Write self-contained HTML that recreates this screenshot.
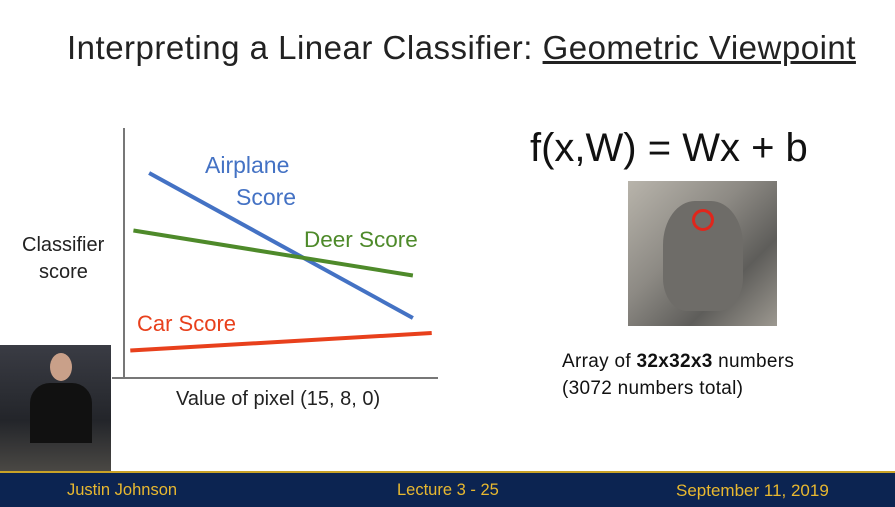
<!DOCTYPE html>
<html><head><meta charset="utf-8"><style>
body{margin:0;width:895px;height:505px;overflow:hidden;background:#fff;font-family:"Liberation Sans",sans-serif;position:relative}
.t{position:absolute;white-space:nowrap}
</style></head><body>
<div class="t" style="left:67px;top:29px;font-size:33px;color:#222;letter-spacing:0.5px">Interpreting a Linear Classifier: <span style="text-decoration:underline">Geometric Viewpoint</span></div>
<svg id="chart" width="895" height="505" style="position:absolute;left:0;top:0">
<line x1="124" y1="128" x2="124" y2="378" stroke="#777" stroke-width="2"/>
<line x1="112" y1="378" x2="438" y2="378" stroke="#777" stroke-width="2"/>
<g id="lines"></g>
<text x="205" y="173" font-size="23" fill="#4472c4">Airplane</text>
<text x="236" y="205" font-size="23" fill="#4472c4">Score</text>
<text x="304" y="247" font-size="22.5" fill="#4e8a2a">Deer Score</text>
<text x="137" y="331" font-size="22" fill="#e8401c">Car Score</text>
<text x="22" y="251" font-size="20" fill="#222">Classifier</text>
<text x="39" y="278" font-size="20" fill="#222">score</text>
<text x="176" y="405" font-size="20" fill="#222">Value of pixel (15, 8, 0)</text>
</svg>
<div class="t" style="left:530px;top:126px;font-size:40px;color:#111">f(x,W) = Wx + b</div>
<div style="position:absolute;left:628px;top:181px;width:149px;height:145px;background:linear-gradient(135deg,#b8b4ab 0%,#8d8a84 40%,#5e5d5a 70%,#9c9890 100%)">
<div style="position:absolute;left:35px;top:20px;width:80px;height:110px;border-radius:40% 40% 30% 30%;background:#6e6c68"></div>
<div style="position:absolute;left:64px;top:28px;width:16px;height:16px;border:3px solid #e0261c;border-radius:50%"></div></div>
<div class="t" style="left:562px;top:351px;font-size:19px;color:#111;letter-spacing:0.3px">Array of <b>32x32x3</b> numbers</div>
<div class="t" style="left:562px;top:378px;font-size:19px;color:#111;letter-spacing:0.3px">(3072 numbers total)</div>
<div style="position:absolute;left:0;top:345px;width:111px;height:126px;background:linear-gradient(180deg,#3a3c44 0%,#23252a 60%,#4a4844 100%)">
<div style="position:absolute;left:50px;top:8px;width:22px;height:28px;border-radius:50%;background:#c9a089"></div>
<div style="position:absolute;left:30px;top:38px;width:62px;height:60px;border-radius:20px 20px 0 0;background:#111"></div></div>
<div style="position:absolute;left:0;top:471px;width:895px;height:34px;background:#0c2451;border-top:2px solid #c9a227">
<div class="t" style="left:67px;top:8px;font-size:16.5px;color:#e8b830">Justin Johnson</div>
<div class="t" style="left:397px;top:8px;font-size:16.5px;color:#e8b830">Lecture 3 - 25</div>
<div class="t" style="left:676px;top:8px;font-size:17px;color:#e8b830">September 11, 2019</div>
</div>
<script>
const seriesNames=["airplane","deer","car"];
const startX=[0.08,0.03,0.02];
const endX=[0.92,0.92,0.98];
const startScore=[0.82,0.59,0.11];
const endScore=[0.24,0.41,0.18];
const colors=["#4472c4","#4e8a2a","#e8401c"];
function xs(v){return 124+v*314;}
function ys(v){return 378-v*250;}
const g=document.getElementById('lines');
for(let i=0;i<seriesNames.length;i++){
 const l=document.createElementNS('http://www.w3.org/2000/svg','line');
 l.setAttribute('x1',xs(startX[i]));l.setAttribute('y1',ys(startScore[i]));
 l.setAttribute('x2',xs(endX[i]));l.setAttribute('y2',ys(endScore[i]));
 l.setAttribute('stroke',colors[i]);l.setAttribute('stroke-width','4');
 
 
 g.appendChild(l);
}
</script>
</body></html>
